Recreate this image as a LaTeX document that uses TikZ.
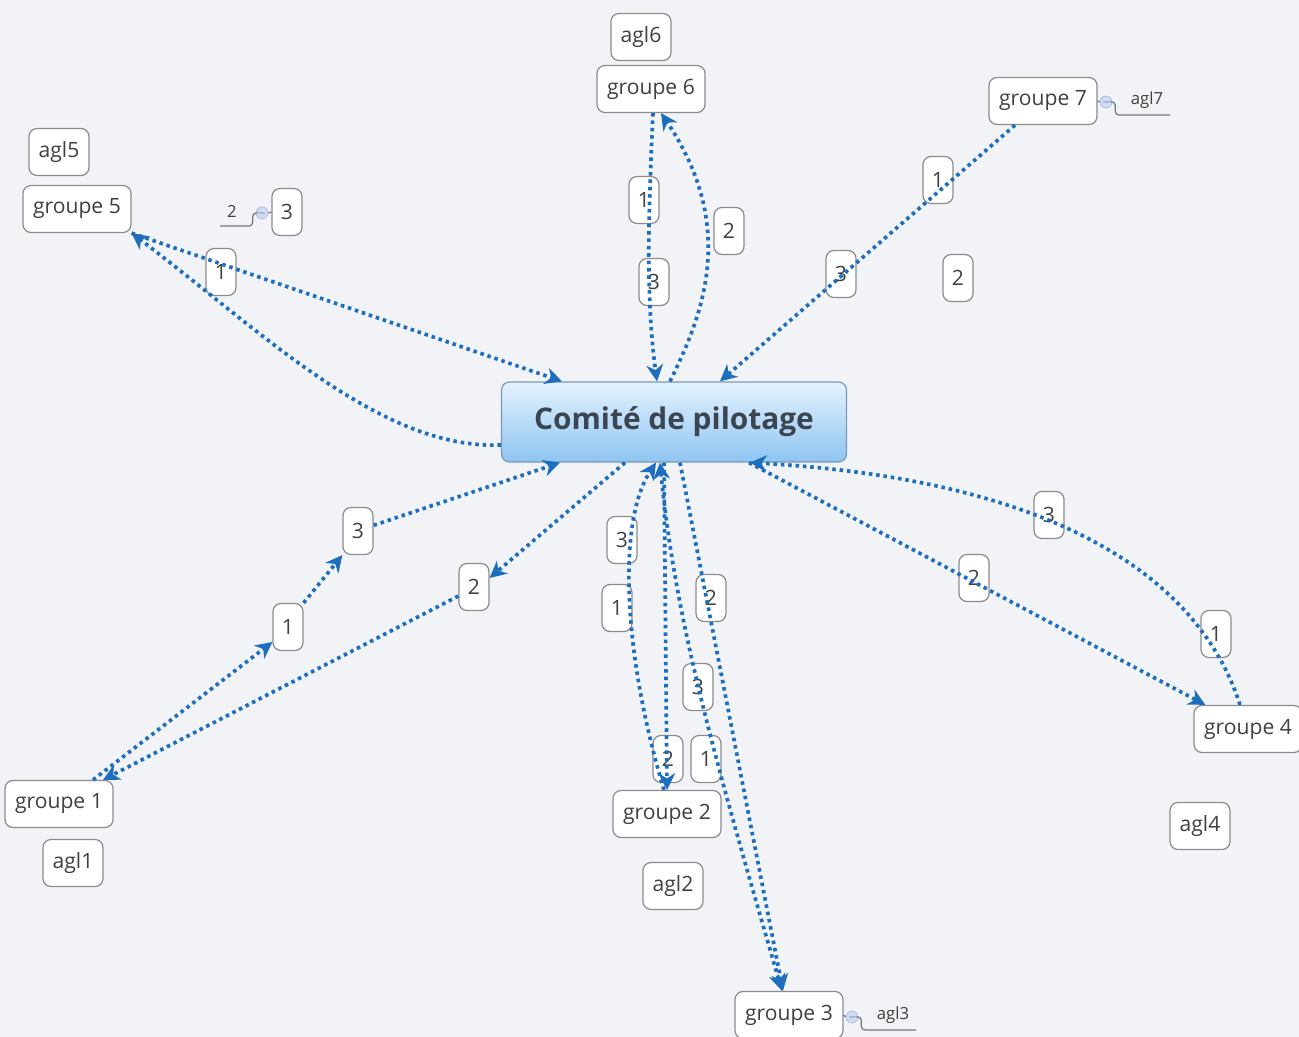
\documentclass[tikz,border=0pt]{standalone}
\usepackage{fontspec}
\setmainfont{Open Sans}
\usetikzlibrary{arrows.meta}
\definecolor{bgc}{HTML}{F2F3F7}
\definecolor{relc}{HTML}{1E6EBF}
\definecolor{boxc}{HTML}{8C8C8C}
\definecolor{txtc}{HTML}{404040}
\definecolor{topc}{HTML}{E4F2FD}
\definecolor{botc}{HTML}{8EC5F2}
\definecolor{rootc}{HTML}{7B98B8}
\definecolor{roott}{HTML}{3B4652}
\definecolor{knobc}{HTML}{D3DDF2}
\definecolor{knobd}{HTML}{A9BCE0}
\definecolor{subc}{HTML}{6E7880}

\begin{document}
\begin{tikzpicture}[x=0.02cm, y=-0.02cm,
	>={Stealth[length=9.5pt,width=9.5pt,inset=3pt]},
	topic/.style={draw=boxc, fill=white, rounded corners=0.16cm, line width=0.7pt, text=txtc, font=\fontsize{12}{14}\selectfont, minimum height=0.94cm, inner xsep=2pt},
	grp/.style={topic, minimum width=2.16cm},
	agl/.style={topic, minimum width=1.2cm},
	lab/.style={topic, minimum width=0.6cm},
	root/.style={draw=rootc, top color=topc, bottom color=botc, rounded corners=0.16cm, line width=0.7pt, minimum width=6.9cm, minimum height=1.6cm, text=roott, font=\fontsize{17}{20}\selectfont\bfseries},
	rel/.style={draw=relc, line width=2.1pt, dash pattern=on 2pt off 2.2pt},
	knob/.style={circle, draw=knobd, fill=knobc, minimum size=0.24cm, inner sep=0pt},
	sub/.style={draw=subc, line width=0.7pt, rounded corners=2pt},
	leaf/.style={text=txtc, font=\fontsize{9.5}{11}\selectfont, inner sep=1pt}]
				\fill[bgc] (0,0) rectangle (1299,1037);
				\useasboundingbox (0,0) rectangle (1299,1037);
				
				\path (674,422) node[root] (c) {Comité de pilotage}
				(641,37) node[agl] (a6) {agl6}
				(651,89) node[grp] (g6) {groupe 6}
				(1043,101) node[grp] (g7) {groupe 7}
				(1106,102) node[knob] (k7) {\color{knobd}\rule{3.5pt}{0.6pt}}
				(1147,100) node[leaf] (t7) {agl7}
				(59,152) node[agl] (a5) {agl5}
				(77,209) node[grp] (g5) {groupe 5}
				(287,212) node[lab] (l53) {3}
				(262,213) node[knob] (k5) {\color{knobd}\rule{3.5pt}{0.6pt}}
				(232,211) node[leaf] (t5) {2}
				(221,272) node[lab] (l51) {1}
				(644,200) node[lab] (l61) {1}
				(654,282) node[lab] (l63) {3}
				(729,231) node[lab] (l62) {2}
				(938,180) node[lab] (l71) {1}
				(841,274) node[lab] (l73) {3}
				(958,278) node[lab] (l72) {2}
				(358,531) node[lab] (l13) {3}
				(474,587) node[lab] (l12) {2}
				(288,627) node[lab] (l11) {1}
				(59,804) node[grp] (g1) {groupe 1}
				(73,863) node[agl] (a1) {agl1}
				(622,540) node[lab] (l23) {3}
				(617,608) node[lab] (l21) {1}
				(668,759) node[lab] (l22) {2}
				(711,598) node[lab] (l32) {2}
				(698,687) node[lab] (l33) {3}
				(706,759) node[lab] (l31) {1}
				(667,814) node[grp] (g2) {groupe 2}
				(673,886) node[agl] (a2) {agl2}
				(789,1015) node[grp] (g3) {groupe 3}
				(852,1017) node[knob] (k3) {\color{knobd}\rule{3.5pt}{0.6pt}}
				(893,1015) node[leaf] (t3) {agl3}
				(1049,515) node[lab] (l43) {3}
				(974,578) node[lab] (l42) {2}
				(1216,634) node[lab] (l41) {1}
				(1248,729) node[grp] (g4) {groupe 4}
				(1200,826) node[agl] (a4) {agl4};
				
				\coordinate (u7) at (1170,115);
				\coordinate (u3) at (916,1030);
				\coordinate (u5) at (220,226);
				\draw[sub] (g7.east) -- (k7.west) (k7.east) -- ++(3,0) |- (u7);
				\draw[sub] (g3.east) -- (k3.west) (k3.east) -- ++(3,0) |- (u3);
				\draw[sub] (l53.west) -- (k5.east) (k5.west) -- ++(-3,0) |- (u5);
				
				\draw[rel,->] (g5.south east) -- ([xshift=-2.24cm]c.north);
				\draw[rel,->] ([yshift=-0.46cm]c.west) .. controls (380,450) and (260,330) .. (g5.south east);
				\draw[rel,->] ([xshift=0.04cm]g6.south) .. controls (648,220) and (646,300) .. ([xshift=-0.34cm]c.north);
				\draw[rel,->] ([xshift=-0.08cm]c.north) .. controls (700,320) and (740,230) .. ([xshift=0.2cm]g6.south);
				\draw[rel,->] ([xshift=-0.56cm]g7.south) -- ([xshift=0.92cm]c.north);
				
				\draw[rel,->] ([xshift=0.68cm]g1.north) -- ([yshift=-0.3cm]l11.west);
				\draw[rel,->] (l11.north east) -- (l13.south west);
				\draw[rel,->] (l13.20) -- ([xshift=-2.28cm]c.south);
				\draw[rel,->] ([xshift=-0.98cm]c.south) -- (l12.30);
				\draw[rel,->] (l12.210) -- ([xshift=0.88cm]g1.north);
				
				\draw[rel,->] ([xshift=-0.06cm]g2.north) .. controls (622,650) and (618,520) .. ([xshift=-0.36cm]c.south);
				\draw[rel,->] ([xshift=-0.2cm]c.south) -- (g2.north);
				\draw[rel,<->] ([xshift=-0.28cm]c.south) .. controls (675,620) and (715,760) .. ([xshift=-0.14cm]g3.north);
				\draw[rel,->] ([xshift=0.12cm]c.south) -- ([xshift=-0.12cm]g3.north);
				
				\draw[rel,->] ([xshift=1.5cm]c.south) -- ([xshift=0.24cm]g4.north west);
				\draw[rel,->] ([xshift=-0.16cm]g4.north) .. controls (1200,580) and (1060,480) .. ([xshift=1.52cm]c.south);
			\end{tikzpicture}
\end{document}
